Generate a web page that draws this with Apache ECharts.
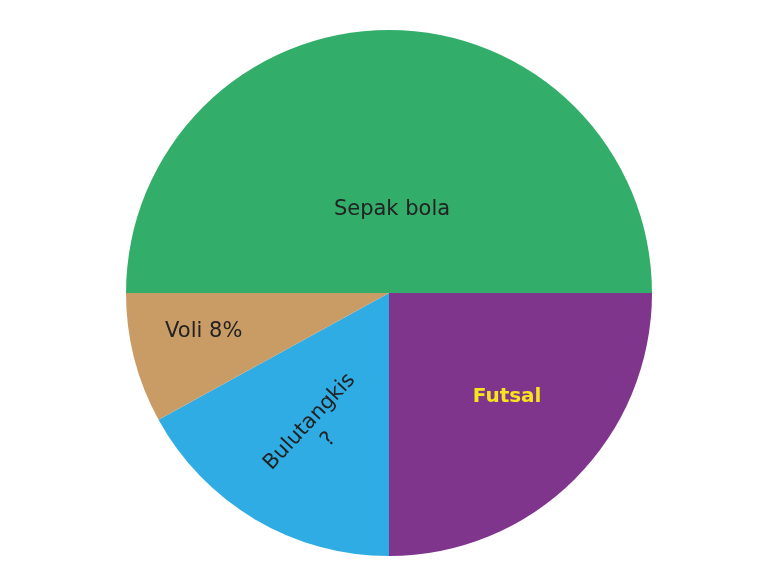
<!DOCTYPE html>
<html>
<head>
<meta charset="utf-8">
<script src="https://cdn.jsdelivr.net/npm/echarts@6/dist/echarts.min.js"></script>
<style>
  html, body { margin: 0; padding: 0; background: #fff; }
  #chart { width: 781px; height: 585px; }
</style>
</head>
<body>
<div id="chart"></div>
<script>
// data
var categories = ["Sepak bola", "Futsal", "Bulutangkis", "Voli"];
var values = [50, 25, 17, 8];
var labelTexts = ["Sepak bola", "Futsal", "Bulutangkis\n?", "Voli 8%"];
var colors = ["#33ad6a", "#80358d", "#2face3", "#c99c65"];

// label nudges / styles per slice
var labelShift = [[3, 51], [23, 9], [-17, 14], [-55, 5]];
var labelRotate = [0, 0, 47, 0];

var myChart = echarts.init(document.getElementById("chart"));
var option = {
  animation: false,
  series: [
    {
      type: "pie",
      center: [389, 293],
      radius: 263,
      startAngle: 180,
      clockwise: true,
      silent: true,
      itemStyle: { borderWidth: 0 },
      label: {
        show: true,
        position: "inside",
        fontFamily: "DejaVu Sans",
        fontSize: 21,
        color: "#222",
        lineHeight: 26,
        formatter: function (p) {
          return labelTexts[p.dataIndex];
        }
      },
      labelLine: { show: false },
      labelLayout: function (params) {
        var s = labelShift[params.dataIndex];
        return { dx: s[0], dy: s[1], rotate: labelRotate[params.dataIndex] };
      },
      data: categories.map(function (name, i) {
        var item = { name: name, value: values[i], itemStyle: { color: colors[i] } };
        if (name === "Futsal") {
          item.label = { color: "#f7e51c", fontWeight: "bold", fontSize: 20 };
        }
        return item;
      })
    }
  ]
};
myChart.setOption(option);
</script>
</body>
</html>
